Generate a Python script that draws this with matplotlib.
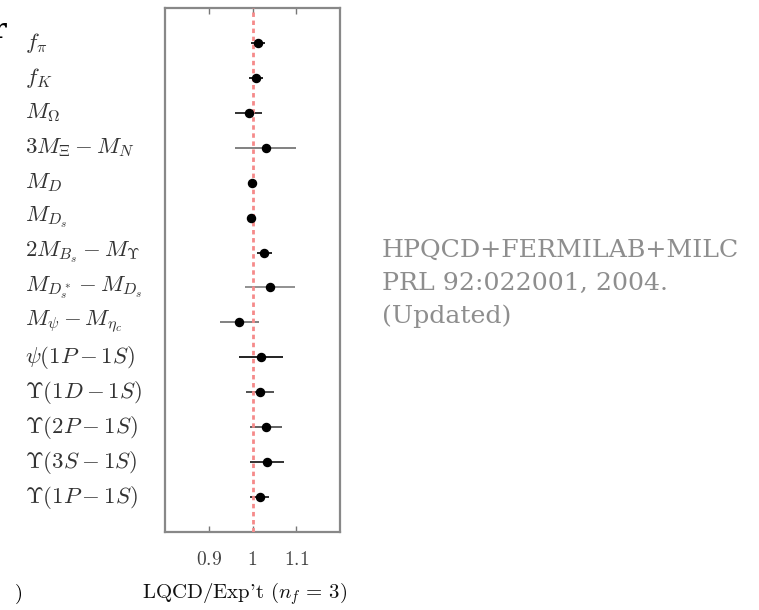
import matplotlib
matplotlib.use("Agg")
import matplotlib.pyplot as plt
import numpy as np

plt.rcParams.update({
    "mathtext.fontset": "cm",
    "font.family": "serif",
    "font.serif": ["cmr10", "DejaVu Serif"],
    "axes.formatter.use_mathtext": True,
})

# observables, top to bottom
labels = [
    r"$f_\pi$", r"$f_K$", r"$M_\Omega$", r"$3M_\Xi - M_N$", r"$M_D$", r"$M_{D_s}$",
    r"$2M_{B_s} - M_\Upsilon$", r"$M_{D_s^*} - M_{D_s}$", r"$M_\psi - M_{\eta_c}$",
    r"$\psi(1P-1S)$", r"$\Upsilon(1D-1S)$", r"$\Upsilon(2P-1S)$",
    r"$\Upsilon(3S-1S)$", r"$\Upsilon(1P-1S)$",
]
ratio = [1.012, 1.008, 0.991, 1.030, 0.999, 0.997, 1.027, 1.041, 0.970,
         1.020, 1.018, 1.031, 1.033, 1.016]
error = [0.016, 0.015, 0.030, 0.069, 0.003, 0.003, 0.017, 0.057, 0.044,
         0.050, 0.032, 0.036, 0.039, 0.022]
bar_color = ["#111111", "#111111", "#222222", "#777777", "#111111", "#111111",
             "#111111", "#888888", "#777777", "#111111", "#444444", "#555555",
             "#222222", "#222222"]
xticks = [0.9, 1.0, 1.1]
xticklabels = ["$0.9$", "$1$", "$1.1$"]
note_lines = ["HPQCD+FERMILAB+MILC", "PRL 92:022001, 2004.", "(Updated)"]

fig = plt.figure(figsize=(7.59, 6.10), dpi=100)
ax = fig.add_axes([165 / 759, 1 - 532 / 610, 175 / 759, 524 / 610])

n = len(labels)
ypos = np.arange(n, 0, -1)
for y, v, e, c in zip(ypos, ratio, error, bar_color):
    ax.plot([v - e, v + e], [y, y], color=c, linewidth=1.3, solid_capstyle="butt", zorder=2)
ax.axvline(1.0, color="#f58a8a", linewidth=2.0, linestyle=(0, (1.6, 1.3)), zorder=3)
ax.plot(ratio, ypos, "o", color="black", markersize=5.8, zorder=4)

ax.set_xlim(0.8, 1.2)
ax.set_ylim(0, n + 1)
ax.set_yticks([])
ax.set_xticks(xticks)
ax.set_xticklabels(xticklabels, fontsize=14, color="#444444")
ax.tick_params(axis="x", direction="in", length=4, width=1, color="#777777",
               top=True, pad=14)
for s in ax.spines.values():
    s.set_color("#888888")
    s.set_linewidth(1.6)

for y, lab in zip(ypos, labels):
    ax.annotate(lab, xy=(0, y), xycoords=("figure pixels", "data"),
                xytext=(25, 0), textcoords="offset pixels",
                ha="left", va="center", fontsize=16.5, color="#333333")

fig.text(245 / 759, 1 - 594 / 610, r"LQCD/Exp't $(n_f\,=\,3)$", ha="center",
         va="center", fontsize=15, color="#111111")
fig.text(14 / 759, 1 - 594 / 610, r"$\mathbf{)}$", ha="left", va="center", fontsize=15)
# clipped glyph at the top-left edge, left over from a neighbouring panel
fig.text(-9 / 759, 1 - 38 / 610, "r", ha="left", va="baseline", fontsize=20,
         fontweight="bold", fontfamily="DejaVu Serif", color="black")

for i, line in enumerate(note_lines):
    fig.text(382 / 759, 1 - (257 + 33 * i) / 610, line, ha="left", va="baseline",
             fontsize=18.2, color="#8e8e8e", fontfamily="DejaVu Serif")

fig.savefig("out.png", dpi=100)
